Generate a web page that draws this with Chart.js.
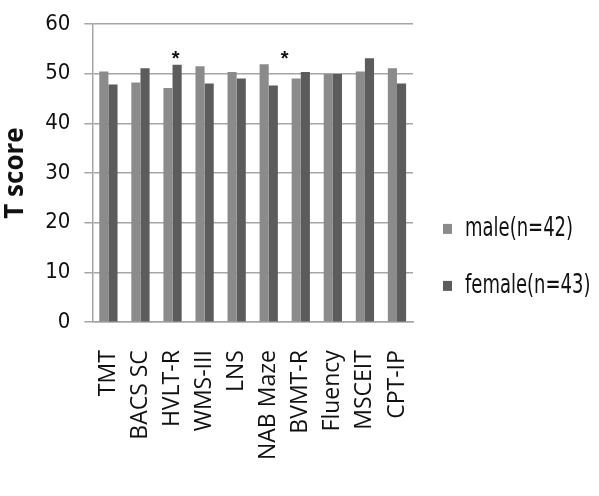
<!DOCTYPE html>
<html>
<head>
<meta charset="utf-8">
<script src="https://cdn.jsdelivr.net/npm/chart.js@4/dist/chart.umd.min.js"></script>
<style>
  html, body { margin: 0; padding: 0; background: #fff; }
  #wrap { width: 599px; height: 496px; }
</style>
</head>
<body>
<div id="wrap"><canvas id="c" width="599" height="496"></canvas></div>
<script>
// Neurocognitive test battery: mean T scores by sex
const tests = ['TMT', 'BACS SC', 'HVLT-R', 'WMS-III', 'LNS', 'NAB Maze', 'BVMT-R', 'Fluency', 'MSCEIT', 'CPT-IP'];
const maleScores   = [50.4, 48.2, 47.1, 51.5, 50.3, 51.9, 49.0, 49.9, 50.4, 51.1];
const femaleScores = [47.8, 51.1, 51.8, 48.0, 49.0, 47.6, 50.3, 49.9, 53.1, 48.0];
const yTicks = [0, 10, 20, 30, 40, 50, 60];
// significance markers: category index plus a fractional offset, and the score level they sit at
const sigIndex  = [2, 5];
const sigOffset = [0.1, 0.5];
const sigLevel  = [53.2, 53.2];

const sigPlugin = {
  id: 'sigStars',
  afterDatasetsDraw(chart) {
    const { ctx, scales: { x, y } } = chart;
    const step = x.getPixelForValue(1) - x.getPixelForValue(0);
    ctx.save();
    ctx.fillStyle = '#111';
    ctx.font = 'bold 20px "Liberation Sans"';
    ctx.textAlign = 'center';
    ctx.textBaseline = 'middle';
    sigIndex.forEach((idx, i) => {
      const px = x.getPixelForValue(idx) + sigOffset[i] * step;
      const py = y.getPixelForValue(sigLevel[i]);
      ctx.fillText('*', px, py + 2);
    });
    ctx.restore();
  }
};

// legend drawn to the right of the plot, with tall condensed lettering
const sideLegend = {
  id: 'sideLegend',
  afterDraw(chart) {
    const { ctx, chartArea } = chart;
    const left = chartArea.right + 30;
    const rows = [chartArea.top + 205, chartArea.top + 262];
    ctx.save();
    chart.data.datasets.forEach((ds, i) => {
      const cy = rows[i];
      ctx.fillStyle = ds.backgroundColor;
      ctx.fillRect(left, cy - 5, 9, 10);
      ctx.save();
      ctx.translate(left + 22, cy);
      ctx.scale(1, 1.35);
      ctx.fillStyle = '#111';
      ctx.font = '20px "DejaVu Sans Condensed", "DejaVu Sans"';
      ctx.textBaseline = 'middle';
      ctx.fillText(ds.label, 0, 0);
      ctx.restore();
    });
    ctx.restore();
  }
};

new Chart(document.getElementById('c'), {
  type: 'bar',
  data: {
    labels: tests,
    datasets: [
      { label: 'male(n=42)', data: maleScores, backgroundColor: '#8b8b8b' },
      { label: 'female(n=43)', data: femaleScores, backgroundColor: '#5c5c5c' }
    ]
  },
  options: {
    responsive: false,
    animation: false,
    devicePixelRatio: 1,
    layout: { padding: { top: -8, left: 0, right: 186, bottom: 16 } },
    datasets: { bar: { categoryPercentage: 0.57, barPercentage: 1.0 } },
    plugins: {
      legend: { display: false },
      tooltip: { enabled: false }
    },
    scales: {
      x: {
        grid: { display: false },
        border: { display: true, color: '#a6a6a6', width: 1.5 },
        ticks: {
          autoSkip: false,
          minRotation: 90, maxRotation: 90,
          padding: 20,
          color: '#111',
          font: { family: '"Open Sans"', size: 23 }
        }
      },
      y: {
        min: 0, max: 60,
        afterBuildTicks(scale) { scale.ticks = yTicks.map(v => ({ value: v })); },
        grid: { color: '#a6a6a6', lineWidth: 1.5, tickLength: 8 },
        border: { color: '#a6a6a6', width: 1.5 },
        title: {
          display: true,
          text: 'T score',
          color: '#111',
          padding: { top: 0, bottom: 0 },
          font: { family: '"Open Sans"', size: 26, weight: 'bold' }
        },
        ticks: {
          padding: 14,
          color: '#111',
          font: { family: '"DejaVu Sans Condensed", "DejaVu Sans"', size: 22, lineHeight: 0.9 }
        }
      }
    }
  },
  plugins: [sigPlugin, sideLegend]
});
</script>
</body>
</html>
